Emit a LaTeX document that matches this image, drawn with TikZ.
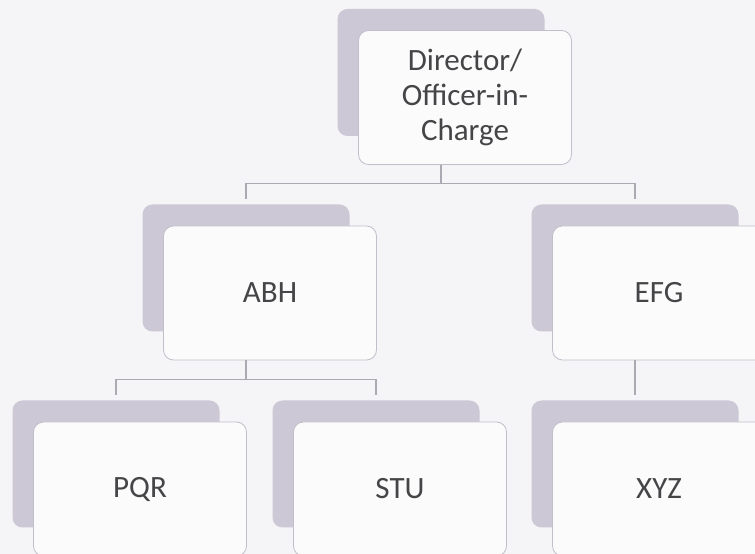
\documentclass[tikz,border=0pt]{standalone}
\usepackage{fontspec}
\setmainfont{Carlito}
\usetikzlibrary{calc}
\begin{document}
\begin{tikzpicture}[x=1pt,y=1pt,
  shadowbox/.style={draw=none, fill=shadowcol, rounded corners=10pt,
    minimum width=207pt, minimum height=127pt, inner sep=0pt},
  frontbox/.style={draw=bordercol, line width=0.8pt, fill=frontcol, rounded corners=10pt,
    minimum width=213pt, minimum height=134pt, inner sep=0pt, align=center,
    font=\fontsize{31}{35}\selectfont, text=textcol},
  link/.style={draw=linecol, line width=1.1pt}]
\definecolor{shadowcol}{HTML}{CCC8D5}
\definecolor{bordercol}{HTML}{C2BECA}
\definecolor{frontcol}{HTML}{FBFBFC}
\definecolor{textcol}{HTML}{454548}
\definecolor{linecol}{HTML}{ABA9B2}
\definecolor{bgcol}{HTML}{F5F4F6}
\fill[bgcol] (0,0) rectangle (755,554);
\useasboundingbox (0,0) rectangle (755,554);
% shadows
\node[shadowbox] (dirS) at (441,481.5) {};
\node[shadowbox] (abhS) at (246,286) {};
\node[shadowbox] (efgS) at (635,286) {};
\node[shadowbox] (pqrS) at (116,90) {};
\node[shadowbox] (stuS) at (376,90) {};
\node[shadowbox] (xyzS) at (635,90) {};
% front boxes
\node[frontbox] (dir) at (465,456.5) {Director/\\Officer-in-\\Charge};
\node[frontbox] (abh) at (270,261) {ABH};
\node[frontbox] (efg) at (659,261) {EFG};
\node[frontbox] (pqr) at (140,65) {PQR};
\node[frontbox] (stu) at (400,65) {STU};
\node[frontbox] (xyz) at (659,65) {XYZ};
% connectors
\coordinate (top1) at ($(dir.south -| dirS.center)+(0,-19)$);
\draw[link] (dir.south -| dirS.center) -- (top1);
\draw[link, shorten >=5pt] (top1) -| (abhS.north);
\draw[link, shorten >=5pt] (top1) -| (efgS.north);
\coordinate (mid1) at ($(abh.south -| abhS.center)+(0,-19)$);
\draw[link] (abh.south -| abhS.center) -- (mid1);
\draw[link, shorten >=5pt] (mid1) -| (pqrS.north);
\draw[link, shorten >=5pt] (mid1) -| (stuS.north);
\draw[link, shorten >=5pt] (efg.south -| efgS.center) -- (xyzS.north);
\end{tikzpicture}
\end{document}
